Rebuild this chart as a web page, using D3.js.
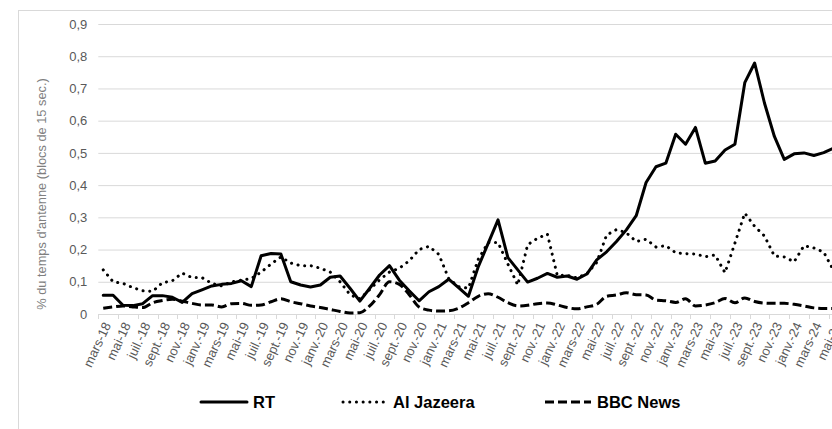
<!DOCTYPE html>
<html>
<head>
<meta charset="utf-8">
<script src="https://cdn.jsdelivr.net/npm/d3@7"></script>
<style>
    body { margin: 0; background: #fff; }
    svg { display: block; font-family: "Liberation Sans", Arial, sans-serif; }
</style>
</head>
<body>
<div id="chart"></div>
<script>
// monthly categories (every other one is labelled)
var months = [
    "mars-18", "avr.-18", "mai-18", "juin-18", "juil.-18", "août-18", "sept.-18", "oct.-18", "nov.-18", "déc.-18",
    "janv.-19", "févr.-19", "mars-19", "avr.-19", "mai-19", "juin-19", "juil.-19", "août-19", "sept.-19", "oct.-19", "nov.-19", "déc.-19",
    "janv.-20", "févr.-20", "mars-20", "avr.-20", "mai-20", "juin-20", "juil.-20", "août-20", "sept.-20", "oct.-20", "nov.-20", "déc.-20",
    "janv.-21", "févr.-21", "mars-21", "avr.-21", "mai-21", "juin-21", "juil.-21", "août-21", "sept.-21", "oct.-21", "nov.-21", "déc.-21",
    "janv.-22", "févr.-22", "mars-22", "avr.-22", "mai-22", "juin-22", "juil.-22", "août-22", "sept.-22", "oct.-22", "nov.-22", "déc.-22",
    "janv.-23", "févr.-23", "mars-23", "avr.-23", "mai-23", "juin-23", "juil.-23", "août-23", "sept.-23", "oct.-23", "nov.-23", "déc.-23",
    "janv.-24", "févr.-24", "mars-24", "avr.-24", "mai-24"
];

var rtValues = [
    0.058, 0.058, 0.027, 0.026, 0.032, 0.057, 0.057, 0.052, 0.036, 0.063,
    0.075, 0.087, 0.092, 0.095, 0.103, 0.085, 0.181, 0.188, 0.186, 0.100,
    0.090, 0.084, 0.090, 0.114, 0.118, 0.080, 0.040, 0.080, 0.121, 0.150,
    0.105, 0.072, 0.041, 0.069, 0.085, 0.108, 0.082, 0.055, 0.147, 0.219,
    0.292, 0.175, 0.137, 0.099, 0.111, 0.126, 0.114, 0.118, 0.108, 0.124,
    0.168, 0.193, 0.225, 0.261, 0.305, 0.408, 0.457, 0.468, 0.558, 0.527,
    0.579, 0.468, 0.475, 0.509, 0.527, 0.718, 0.779, 0.654, 0.551, 0.480,
    0.497, 0.500, 0.492, 0.501, 0.515
];

var alJazeeraValues = [
    0.137, 0.100, 0.095, 0.082, 0.072, 0.070, 0.097, 0.103, 0.127, 0.113,
    0.113, 0.095, 0.087, 0.100, 0.105, 0.110, 0.130, 0.155, 0.177, 0.158,
    0.150, 0.150, 0.142, 0.130, 0.100, 0.060, 0.047, 0.076, 0.106, 0.130,
    0.142, 0.165, 0.200, 0.210, 0.185, 0.110, 0.085, 0.080, 0.170, 0.222,
    0.222, 0.155, 0.090, 0.215, 0.235, 0.248, 0.120, 0.120, 0.112, 0.125,
    0.160, 0.245, 0.262, 0.252, 0.225, 0.232, 0.208, 0.212, 0.190, 0.187,
    0.186, 0.178, 0.183, 0.128, 0.220, 0.313, 0.272, 0.242, 0.180, 0.177,
    0.162, 0.212, 0.205, 0.192, 0.135
];

var bbcValues = [
    0.018, 0.022, 0.025, 0.022, 0.020, 0.035, 0.042, 0.046, 0.040, 0.033,
    0.028, 0.028, 0.022, 0.032, 0.033, 0.027, 0.028, 0.038, 0.047, 0.038,
    0.032, 0.025, 0.020, 0.014, 0.008, 0.003, 0.004, 0.025, 0.060, 0.100,
    0.092, 0.060, 0.022, 0.012, 0.009, 0.010, 0.018, 0.035, 0.055, 0.063,
    0.052, 0.035, 0.025, 0.027, 0.032, 0.034, 0.028, 0.020, 0.016, 0.022,
    0.030, 0.055, 0.059, 0.066, 0.060, 0.059, 0.043, 0.041, 0.036, 0.047,
    0.025, 0.028, 0.035, 0.048, 0.035, 0.050, 0.039, 0.034, 0.033, 0.033,
    0.030, 0.025, 0.019, 0.017, 0.017
];

var seriesNames = ["RT", "Al Jazeera", "BBC News"];
var yTicks = [0, 0.1, 0.2, 0.3, 0.4, 0.5, 0.6, 0.7, 0.8, 0.9];
var yTitle = "% du temps d'antenne (blocs de 15 sec.)";


LineChart = function(_parentElement) {
    this.parentElement = _parentElement;
    this.width = 832;
    this.height = 429;
    this.initVis();
}

LineChart.prototype.initVis = function() {
    var vis = this;

    vis.svg = d3.select("#" + vis.parentElement).append("svg")
        .attr("width", vis.width)
        .attr("height", vis.height);

    // plot box (the chart continues past the right edge of the window)
    vis.left = 98.3;
    vis.top = 24;
    vis.bottom = 314;
    vis.step = 9.87;

    vis.xScale = d3.scaleBand()
        .domain(months)
        .range([vis.left, vis.left + months.length * vis.step]);

    vis.yScale = d3.scaleLinear()
        .domain([0, 0.9])
        .range([vis.bottom, vis.top]);

    vis.data = [
        { name: seriesNames[0], values: rtValues, dash: null, cap: "round", curve: d3.curveLinear },
        { name: seriesNames[1], values: alJazeeraValues, dash: "0.1 6.6", cap: "round", curve: d3.curveLinear },
        { name: seriesNames[2], values: bbcValues, dash: "9 4", cap: "butt", curve: d3.curveMonotoneX }
    ];

    vis.updateVis();
}

LineChart.prototype.updateVis = function() {
    var vis = this;
    var svg = vis.svg;
    var right = vis.left + months.length * vis.step;

    // outer frame
    svg.append("rect")
        .attr("x", 18.5).attr("y", 10.5)
        .attr("width", 900).attr("height", 500)
        .attr("fill", "none")
        .attr("stroke", "#d9d9d9");

    // gridlines + y labels
    var yAxis = d3.axisLeft(vis.yScale)
        .tickValues(yTicks)
        .tickSize(-(right - vis.left))
        .tickPadding(11)
        .tickFormat(function(d) { return d === 0 ? "0" : d3.format(".1f")(d).replace(".", ","); });

    var gy = svg.append("g")
        .attr("class", "axis y-axis")
        .attr("transform", "translate(" + vis.left + ",0)")
        .call(yAxis);
    gy.select(".domain").remove();
    gy.selectAll(".tick line").attr("stroke", "#d9d9d9").attr("stroke-width", 1);
    gy.selectAll(".tick text")
        .attr("fill", "#595959")
        .style("font-size", "13px")
        .style("font-family", "'Liberation Sans', Arial, sans-serif");

    // x axis line + tick marks every two months
    var gx = svg.append("g").attr("class", "axis x-axis");
    gx.append("line")
        .attr("x1", vis.left).attr("x2", right)
        .attr("y1", vis.bottom + 0.5).attr("y2", vis.bottom + 0.5)
        .attr("stroke", "#d9d9d9");

    var labelled = months.filter(function(d, i) { return i % 2 === 0; });

    gx.selectAll("line.tick")
        .data(labelled)
        .enter()
        .append("line")
        .attr("class", "tick")
        .attr("x1", function(d) { return Math.round(vis.xScale(d)) + 0.5; })
        .attr("x2", function(d) { return Math.round(vis.xScale(d)) + 0.5; })
        .attr("y1", vis.bottom)
        .attr("y2", vis.bottom + 5)
        .attr("stroke", "#d9d9d9");

    gx.selectAll("text")
        .data(labelled)
        .enter()
        .append("text")
        .attr("transform", function(d) {
            var x = vis.xScale(d) + vis.step / 2 + 4;
            return "translate(" + x + "," + (vis.bottom + 9) + ") rotate(-65)";
        })
        .attr("text-anchor", "end")
        .attr("dy", "0.35em")
        .attr("fill", "#595959")
        .style("font-size", "13px")
        .text(function(d) { return d; });

    // y title
    svg.append("text")
        .attr("transform", "translate(46,194) rotate(-90)")
        .attr("text-anchor", "middle")
        .attr("fill", "#7f7f7f")
        .style("font-size", "12.8px")
        .text(yTitle);

    // lines
    vis.data.forEach(function(s) {
        var line = d3.line()
            .curve(s.curve)
            .x(function(d, i) { return vis.xScale(months[i]) + vis.xScale.bandwidth() / 2; })
            .y(function(d) { return vis.yScale(d); });

        svg.append("path")
            .datum(s.values)
            .attr("fill", "none")
            .attr("stroke", "#000")
            .attr("stroke-width", 3)
            .attr("stroke-linecap", s.cap)
            .attr("stroke-linejoin", "round")
            .attr("stroke-dasharray", s.dash)
            .attr("d", line);
    });

    // legend
    var legendX = [200, 342, 544];
    var legend = svg.selectAll("g.legend")
        .data(vis.data)
        .enter()
        .append("g")
        .attr("class", "legend")
        .attr("transform", function(d, i) { return "translate(" + legendX[i] + ",402)"; });

    legend.append("line")
        .attr("x1", 1).attr("x2", 47)
        .attr("y1", 0).attr("y2", 0)
        .attr("stroke", "#000")
        .attr("stroke-width", 3)
        .attr("stroke-linecap", function(d) { return d.cap; })
        .attr("stroke-dasharray", function(d) { return d.dash; });

    legend.append("text")
        .attr("x", function(d, i) { return i === 1 ? 51 : 53; })
        .attr("y", 6)
        .attr("font-weight", "bold")
        .style("font-size", "16.5px")
        .attr("fill", "#000")
        .text(function(d) { return d.name; });
}

new LineChart("chart");
</script>
</body>
</html>
